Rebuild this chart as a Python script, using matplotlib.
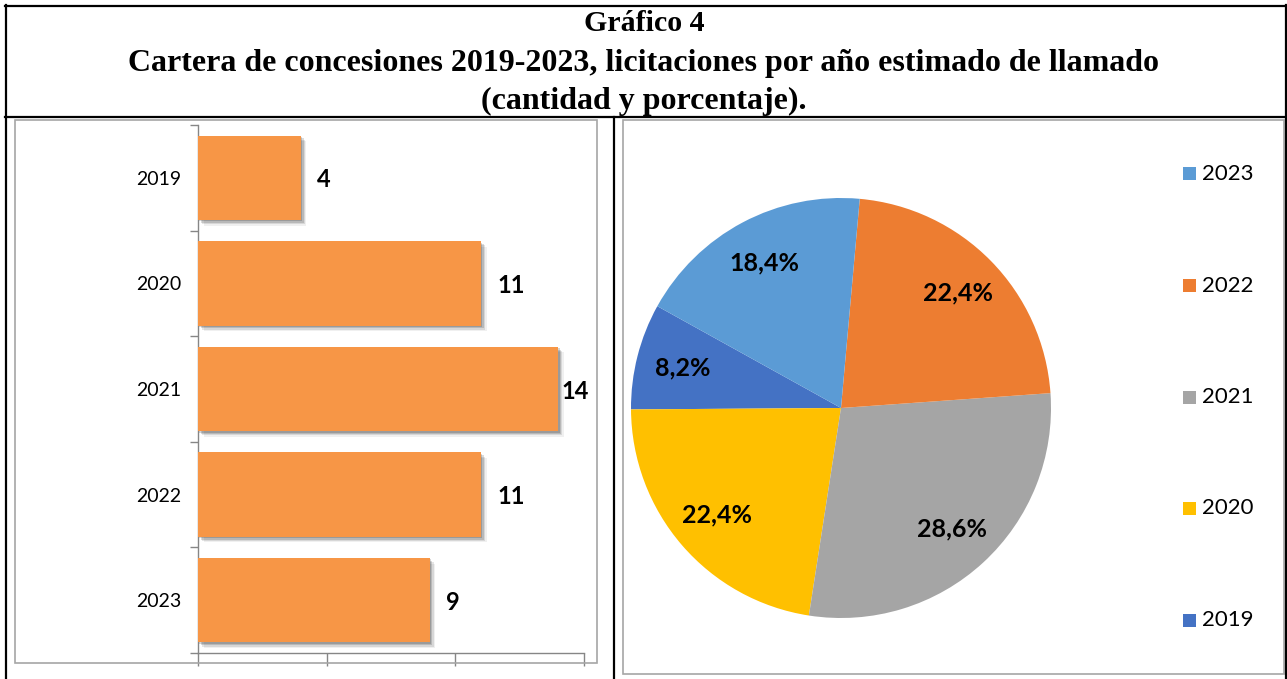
import matplotlib
matplotlib.use("Agg")
import matplotlib.pyplot as plt
import matplotlib.patheffects as pe
from matplotlib.patches import Rectangle
from matplotlib.lines import Line2D

# ---------------- data ----------------
years = ["2019", "2020", "2021", "2022", "2023"]
counts = [4, 11, 14, 11, 9]
pie_colors = ["#4472C4", "#FFC000", "#A5A5A5", "#ED7D31", "#5B9BD5"]
legend_order = ["2023", "2022", "2021", "2020", "2019"]
title_lines = ["Gráfico 4",
               "Cartera de concesiones 2019-2023, licitaciones por año estimado de llamado",
               "(cantidad y porcentaje)."]
x_ticks = [0, 5, 10, 15]

W, H = 1287, 679
fig = plt.figure(figsize=(W / 100, H / 100), dpi=100)
fig.patch.set_facecolor("white")


def fx(x):
    return x / W


def fy(y):
    return 1 - y / H


def box(x0, y0, x1, y1):
    return [fx(x0), fy(y1), fx(x1) - fx(x0), fy(y0) - fy(y1)]


# ---------------- frame lines ----------------
black = dict(color="black", lw=1.6, transform=fig.transFigure)
fig.add_artist(Line2D([fx(5.5), fx(5.5)], [fy(5), fy(679)], **black))
fig.add_artist(Line2D([fx(1285.5), fx(1285.5)], [fy(5), fy(679)], **black))
fig.add_artist(Line2D([fx(5), fx(1286)], [fy(5.5), fy(5.5)], **black))
fig.add_artist(Line2D([fx(5), fx(1286)], [fy(117), fy(117)], **black))
fig.add_artist(Line2D([fx(614), fx(614)], [fy(117), fy(679)], **black))

grey = "#A6A6A6"
fig.add_artist(Rectangle((fx(15), fy(663)), fx(597) - fx(15), fy(120) - fy(663),
                         transform=fig.transFigure, fill=False, ec=grey, lw=1.2))
fig.add_artist(Rectangle((fx(623), fy(674)), fx(1284) - fx(623), fy(120) - fy(674),
                         transform=fig.transFigure, fill=False, ec=grey, lw=1.2))

# ---------------- title ----------------
serif = "Liberation Serif"
for line, yy, fs in zip(title_lines, [31, 71, 109], [21.5, 23, 23]):
    fig.text(fx(644), fy(yy), line, ha="center", va="baseline", fontsize=fs,
             fontweight="bold", family=serif)

# ---------------- bar chart ----------------
axb = fig.add_axes(box(198, 125, 584, 653))
ypos = list(range(len(years)))
bars = axb.barh(ypos, counts, height=0.8, color="#F79646", zorder=3)
for b in bars:
    b.set_path_effects([
        pe.SimplePatchShadow(offset=(4.0, -4.0), shadow_rgbFace="black", alpha=0.06),
        pe.SimplePatchShadow(offset=(3.0, -3.0), shadow_rgbFace="black", alpha=0.10),
        pe.SimplePatchShadow(offset=(2.0, -2.0), shadow_rgbFace="black", alpha=0.14),
        pe.SimplePatchShadow(offset=(1.0, -1.0), shadow_rgbFace="black", alpha=0.16),
        pe.Normal()])
axb.set_xlim(0, 15)
axb.set_ylim(len(years) - 0.5, -0.5)
axb.set_xticks(x_ticks)
axb.set_xticklabels([])
axb.set_yticks(ypos)
axb.set_yticklabels(years, family="Lato", fontsize=14)
axb.set_yticks([i - 0.5 for i in range(len(years) + 1)], minor=True)
axb.tick_params(axis="y", which="major", length=0, pad=12)
axb.tick_params(axis="y", which="minor", length=6, color="#868686", width=1)
axb.tick_params(axis="x", which="major", length=9, color="#868686", width=1)
for s in ["top", "right"]:
    axb.spines[s].set_visible(False)
for s in ["left", "bottom"]:
    axb.spines[s].set_color("#868686")
    axb.spines[s].set_linewidth(1)
axb.set_facecolor("none")
for yv, v in zip(ypos, counts):
    axb.text(min(v + 0.62, 14.12), yv + 0.02, str(v), ha="left", va="center",
             family="Lato", fontweight="bold", fontsize=17, zorder=4)

# ---------------- pie chart ----------------
r = 210
axp = fig.add_axes(box(841 - r, 408 - r, 841 + r, 408 + r))
wedges, texts, autotexts = axp.pie(
    counts, colors=pie_colors, startangle=151, counterclock=True,
    autopct=lambda p: f"{p:.1f}%".replace(".", ","), pctdistance=0.78,
    radius=1, wedgeprops=dict(linewidth=0),
    textprops=dict(family="Lato", fontweight="bold", fontsize=18, color="black"))
axp.set_xlim(-1, 1)
axp.set_ylim(-1, 1)
axp.set_aspect("equal")
axp.axis("off")

# legend
col_of = dict(zip(years, pie_colors))
for i, yr in enumerate(legend_order):
    yc = 174 + i * 111.5
    fig.add_artist(Rectangle((fx(1183), fy(yc + 6.5)), fx(13) - fx(0), fy(0) - fy(13),
                             transform=fig.transFigure, color=col_of[yr], lw=0))
    fig.text(fx(1202), fy(yc), yr, ha="left", va="center", family="Lato", fontsize=16)

fig.savefig("out.png", dpi=100)
